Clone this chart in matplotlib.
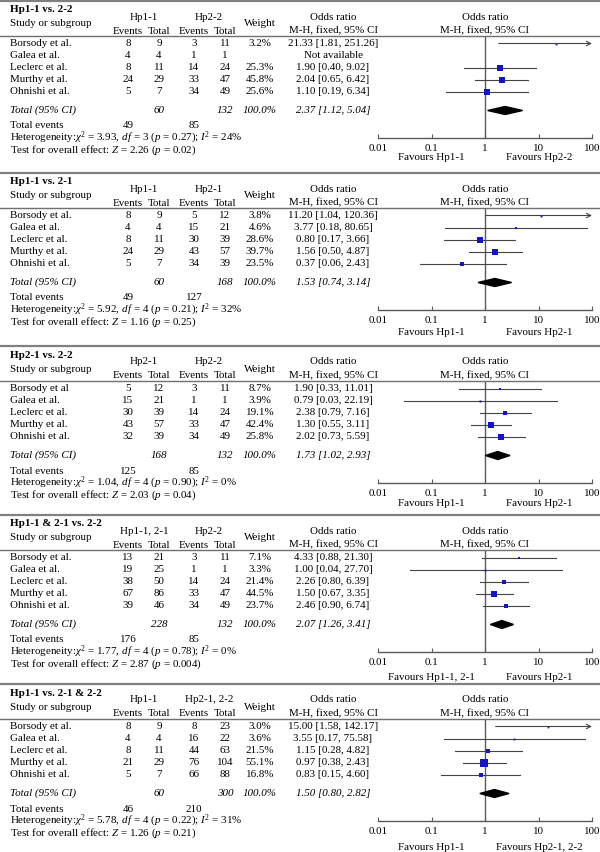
import matplotlib
matplotlib.use("Agg")
import matplotlib.pyplot as plt

plt.rcParams['font.family'] = ['Liberation Serif', 'DejaVu Serif']
plt.rcParams['mathtext.fontset'] = 'custom'
plt.rcParams['mathtext.rm'] = 'Liberation Serif'
plt.rcParams['mathtext.it'] = 'Liberation Serif:italic'
plt.rcParams['mathtext.bf'] = 'Liberation Serif:bold'

# ---- data (one entry per panel) ----
titles = ["Hp1-1 vs. 2-2", "Hp1-1 vs. 2-1", "Hp2-1 vs. 2-2", "Hp1-1 & 2-1 vs. 2-2", "Hp1-1 vs. 2-1 & 2-2"]
group1 = ["Hp1-1", "Hp1-1", "Hp2-1", "Hp1-1, 2-1", "Hp1-1"]
group2 = ["Hp2-2", "Hp2-1", "Hp2-2", "Hp2-2", "Hp2-1, 2-2"]
fav_left = ["Favours Hp1-1", "Favours Hp1-1", "Favours Hp1-1", "Favours Hp1-1, 2-1", "Favours Hp1-1"]
fav_right = ["Favours Hp2-2", "Favours Hp2-1", "Favours Hp2-1", "Favours Hp2-1", "Favours Hp2-1, 2-2"]

studies = [
    ["Borsody et al.", "Galea et al.", "Leclerc et al.", "Murthy et al.", "Ohnishi et al."],
    ["Borsody et al.", "Galea et al.", "Leclerc et al.", "Murthy et al.", "Ohnishi et al."],
    ["Borsody et al", "Galea et al.", "Leclerc et al.", "Murthy et al.", "Ohnishi et al."],
    ["Borsody et al.", "Galea et al.", "Leclerc et al.", "Murthy et al.", "Ohnishi et al."],
    ["Borsody et al.", "Galea et al.", "Leclerc et al.", "Murthy et al.", "Ohnishi et al."],
]
events1 = [[8, 4, 8, 24, 5], [8, 4, 8, 24, 5], [5, 15, 30, 43, 32], [13, 19, 38, 67, 39], [8, 4, 8, 21, 5]]
total1 = [[9, 4, 11, 29, 7], [9, 4, 11, 29, 7], [12, 21, 39, 57, 39], [21, 25, 50, 86, 46], [9, 4, 11, 29, 7]]
events2 = [[3, 1, 14, 33, 34], [5, 15, 30, 43, 34], [3, 1, 14, 33, 34], [3, 1, 14, 33, 34], [8, 16, 44, 76, 66]]
total2 = [[11, 1, 24, 47, 49], [12, 21, 39, 57, 39], [11, 1, 24, 47, 49], [11, 1, 24, 47, 49], [23, 22, 63, 104, 88]]
weights = [
    [3.2, None, 25.3, 45.8, 25.6],
    [3.8, 4.6, 28.6, 39.7, 23.5],
    [8.7, 3.9, 19.1, 42.4, 25.8],
    [7.1, 3.3, 21.4, 44.5, 23.7],
    [3.0, 3.6, 21.5, 55.1, 16.8],
]
odds = [
    [21.33, None, 1.90, 2.04, 1.10],
    [11.20, 3.77, 0.80, 1.56, 0.37],
    [1.90, 0.79, 2.38, 1.30, 2.02],
    [4.33, 1.00, 2.26, 1.50, 2.46],
    [15.00, 3.55, 1.15, 0.97, 0.83],
]
ci_low = [
    [1.81, None, 0.40, 0.65, 0.19],
    [1.04, 0.18, 0.17, 0.50, 0.06],
    [0.33, 0.03, 0.79, 0.55, 0.73],
    [0.88, 0.04, 0.80, 0.67, 0.90],
    [1.58, 0.17, 0.28, 0.38, 0.15],
]
ci_high = [
    [251.26, None, 9.02, 6.42, 6.34],
    [120.36, 80.65, 3.66, 4.87, 2.43],
    [11.01, 22.19, 7.16, 3.11, 5.59],
    [21.30, 27.70, 6.39, 3.35, 6.74],
    [142.17, 75.58, 4.82, 2.43, 4.60],
]
tot_n1 = [60, 60, 168, 228, 60]
tot_n2 = [132, 168, 132, 132, 300]
tot_or = [2.37, 1.53, 1.73, 2.07, 1.50]
tot_lo = [1.12, 0.74, 1.02, 1.26, 0.80]
tot_hi = [5.04, 3.14, 2.93, 3.41, 2.82]
tot_ev1 = [49, 49, 125, 176, 46]
tot_ev2 = [85, 127, 85, 85, 210]
chi2 = ["3.93", "5.92", "1.04", "1.77", "5.78"]
dfs = [3, 4, 4, 4, 4]
het_p = ["0.27", "0.21", "0.90", "0.78", "0.22"]
i2 = [24, 32, 0, 0, 31]
z_val = ["2.26", "1.16", "2.03", "2.87", "1.26"]
z_p = ["0.02", "0.25", "0.04", "0.004", "0.21"]

# ---- layout ----
W, H = 600, 852
fig = plt.figure(figsize=(6, 8.52), dpi=100)
FS = 7.9
panel_tops = [1, 173, 346, 515, 684]
fav_off = [157, 159, 158, 162, 163]
BLUE = "#1414c8"
GRID = "#5a5a5a"


def txt(x, y, s, **kw):
    kw.setdefault("fontsize", FS)
    kw.setdefault("va", "center")
    fig.text(x / W, 1 - y / H, s, **kw)


def hline(y, lw, color):
    fig.add_artist(plt.Line2D([0, 1], [1 - y / H, 1 - y / H], lw=lw, color=color))


cols = {"e1": 128, "t1": 159, "e2": 194, "t2": 225, "w": 260, "or": 333}

for p in range(5):
    s = panel_tops[p]
    hline(s, 1.6, "#808080")
    txt(10, s + 9, titles[p], fontweight="bold")
    txt(10, s + 23, "Study or subgroup")
    txt(144, s + 16, group1[p], ha="center")
    txt(209, s + 16, group2[p], ha="center")
    for key, lab in [("e1", "Events"), ("t1", "Total"), ("e2", "Events"), ("t2", "Total")]:
        txt(cols[key], s + 30, lab, ha="center")
    txt(cols["w"], s + 23, "Weight", ha="center")
    txt(cols["or"], s + 16, "Odds ratio", ha="center")
    txt(cols["or"], s + 30, "M-H, fixed, 95% CI", ha="center")
    txt(485, s + 16, "Odds ratio", ha="center")
    txt(485, s + 30, "M-H, fixed, 95% CI", ha="center")
    hline(s + 35, 1.0, "#707070")

    # forest axes
    top_px, bot_px = s + 35, s + 137
    ax = fig.add_axes([378 / W, 1 - bot_px / H, 214 / W, (bot_px - top_px) / H])
    ax.set_xscale("log")
    ax.set_xlim(0.01, 100)
    ax.set_ylim((137 - 42.5) / 12, (35 - 42.5) / 12)
    ax.patch.set_alpha(0)
    for side in ["left", "top", "right"]:
        ax.spines[side].set_visible(False)
    ax.spines["bottom"].set_color(GRID)
    ax.spines["bottom"].set_linewidth(1.0)
    ax.set_yticks([])
    ax.set_xticks([0.01, 0.1, 1, 10, 100])
    ax.set_xticklabels(["0.01", "0.1", "1", "10", "100"])
    ax.minorticks_off()
    ax.tick_params(axis="x", direction="in", length=3, color=GRID, labelsize=FS, pad=4)
    ax.axvline(1, color=GRID, lw=1.0)

    for i in range(5):
        y = s + 42.5 + 12 * i
        txt(10, y, studies[p][i])
        txt(cols["e1"], y, str(events1[p][i]), ha="center")
        txt(cols["t1"], y, str(total1[p][i]), ha="center")
        txt(cols["e2"], y, str(events2[p][i]), ha="center")
        txt(cols["t2"], y, str(total2[p][i]), ha="center")
        if odds[p][i] is None:
            txt(cols["or"], y, "Not available", ha="center")
            continue
        txt(cols["w"], y, f"{weights[p][i]:.1f}%", ha="center")
        txt(cols["or"], y, f"{odds[p][i]:.2f} [{ci_low[p][i]:.2f}, {ci_high[p][i]:.2f}]", ha="center")
        if ci_high[p][i] > 100:
            ax.annotate("", xy=(100, i), xytext=(ci_low[p][i], i),
                        arrowprops=dict(arrowstyle="->", color="#444444", lw=0.8,
                                        shrinkA=0, shrinkB=0, mutation_scale=8))
        else:
            ax.plot([ci_low[p][i], ci_high[p][i]], [i, i], color="#444444", lw=0.8)
        side = weights[p][i] ** 0.5
        ax.plot(odds[p][i], i, marker="s", color=BLUE, markersize=side * 0.72,
                markeredgewidth=0, zorder=3)

    # total row
    yt = s + 109.5
    txt(10, yt, "Total (95% CI)", style="italic")
    txt(cols["t1"], yt, str(tot_n1[p]), ha="center", style="italic")
    txt(cols["t2"], yt, str(tot_n2[p]), ha="center", style="italic")
    txt(cols["w"], yt, "100.0%", ha="center", style="italic")
    txt(cols["or"], yt, f"{tot_or[p]:.2f} [{tot_lo[p]:.2f}, {tot_hi[p]:.2f}]", ha="center", style="italic")
    di = (109.5 - 42.5) / 12
    dh = 4 / 12
    ax.fill([tot_lo[p], tot_or[p], tot_hi[p], tot_or[p]], [di, di - dh, di, di + dh],
            color="black", zorder=3)

    txt(10, s + 125, "Total events")
    txt(cols["e1"], s + 125, str(tot_ev1[p]), ha="center")
    txt(cols["e2"], s + 125, str(tot_ev2[p]), ha="center")
    txt(10, s + 136.5, "Heterogeneity:$\\chi^2$ = " + chi2[p] + ", $d\\,f$ = " + str(dfs[p])
        + " ($p$ = " + het_p[p] + "); $I^2$ = " + str(i2[p]) + "%")
    txt(10, s + 149.5, "Test for overall effect: $Z$ = " + z_val[p] + " ($p$ = " + z_p[p] + ")")

    txt(431, s + fav_off[p], fav_left[p], ha="center")
    txt(539, s + fav_off[p], fav_right[p], ha="center")

fig.savefig("out.png", dpi=100, facecolor="white")
